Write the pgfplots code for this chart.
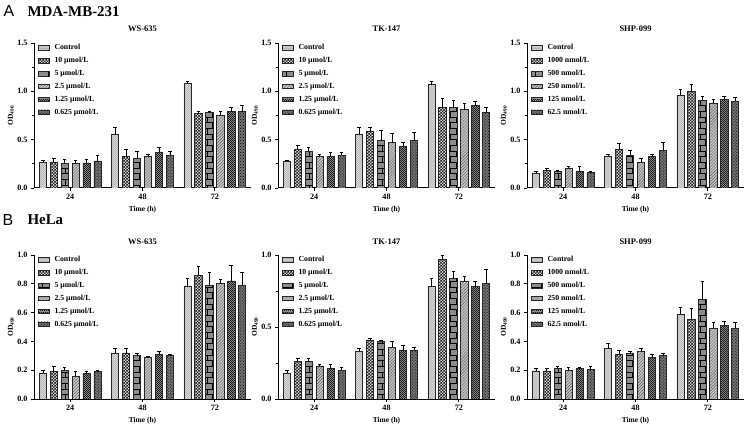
\documentclass[border=0pt]{standalone}
\usepackage{fontspec}
\setmainfont{Liberation Serif}
\newfontfamily\sansA{Liberation Sans}
\usepackage{pgfplots}
\usepackage{pgfplotstable}
\pgfplotsset{compat=1.18}
\usetikzlibrary{patterns}

\pgfdeclarepatternformonly{finecheck}{\pgfpointorigin}{\pgfqpoint{3pt}{3pt}}{\pgfqpoint{3pt}{3pt}}{%
  \pgfpathrectangle{\pgfpointorigin}{\pgfqpoint{1.5pt}{1.5pt}}%
  \pgfpathrectangle{\pgfqpoint{1.5pt}{1.5pt}}{\pgfqpoint{1.5pt}{1.5pt}}%
  \pgfusepath{fill}}
\pgfdeclarepatternformonly{tinycheck}{\pgfpointorigin}{\pgfqpoint{2.4pt}{2.4pt}}{\pgfqpoint{2.4pt}{2.4pt}}{%
  \pgfpathrectangle{\pgfpointorigin}{\pgfqpoint{1.2pt}{1.2pt}}%
  \pgfpathrectangle{\pgfqpoint{1.2pt}{1.2pt}}{\pgfqpoint{1.2pt}{1.2pt}}%
  \pgfusepath{fill}}

% columns: value and (upper) error for the six groups
\pgfplotstableread{
c ce a ae b be d de e ee f fe
0.27 0.02 0.27 0.04 0.25 0.05 0.25 0.04 0.26 0.04 0.28 0.06
0.56 0.07 0.33 0.07 0.31 0.07 0.33 0.02 0.37 0.05 0.34 0.04
1.08 0.02 0.77 0.02 0.78 0.01 0.75 0.04 0.79 0.04 0.79 0.07
}\tA
\pgfplotstableread{
c ce a ae b be d de e ee f fe
0.28 0.01 0.40 0.04 0.38 0.04 0.33 0.02 0.33 0.04 0.34 0.03
0.56 0.07 0.59 0.04 0.49 0.11 0.47 0.10 0.43 0.04 0.49 0.09
1.07 0.03 0.83 0.10 0.83 0.08 0.81 0.07 0.85 0.05 0.78 0.05
}\tB
\pgfplotstableread{
c ce a ae b be d de e ee f fe
0.15 0.02 0.18 0.02 0.17 0.01 0.20 0.02 0.17 0.05 0.16 0.01
0.33 0.02 0.40 0.06 0.34 0.05 0.27 0.04 0.33 0.02 0.39 0.08
0.96 0.06 1.00 0.07 0.91 0.04 0.88 0.04 0.92 0.03 0.90 0.04
}\tC
\pgfplotstableread{
c ce a ae b be d de e ee f fe
0.18 0.02 0.19 0.04 0.20 0.02 0.16 0.03 0.18 0.01 0.19 0.01
0.32 0.03 0.32 0.03 0.30 0.02 0.29 0.01 0.31 0.02 0.30 0.01
0.78 0.06 0.86 0.06 0.79 0.09 0.80 0.03 0.82 0.11 0.79 0.09
}\tD
\pgfplotstableread{
c ce a ae b be d de e ee f fe
0.18 0.02 0.26 0.02 0.26 0.02 0.23 0.01 0.21 0.03 0.20 0.02
0.33 0.02 0.41 0.01 0.40 0.01 0.36 0.04 0.34 0.03 0.34 0.02
0.78 0.06 0.97 0.03 0.84 0.05 0.82 0.03 0.78 0.04 0.80 0.10
}\tE
\pgfplotstableread{
c ce a ae b be d de e ee f fe
0.195 0.015 0.195 0.015 0.215 0.015 0.20 0.02 0.21 0.01 0.205 0.02
0.35 0.04 0.31 0.03 0.32 0.01 0.33 0.02 0.29 0.02 0.30 0.02
0.59 0.05 0.55 0.08 0.69 0.13 0.49 0.04 0.51 0.03 0.49 0.04
}\tF

\pgfplotsset{
  barsty/.style={ybar, bar width=0.1, bar shift=0pt, draw=black!85, line width=0.7pt,
    legend image code/.code={\draw[##1] (0bp,-2.3bp) rectangle (11bp,2.3bp);},
    error bars/y dir=plus, error bars/y explicit,
    error bars/error bar style={line width=0.6pt, black},
    error bars/error mark options={rotate=90, mark size=1.8bp, line width=0.6pt, black}},
  s0/.style={barsty, fill=black!30, postaction={pattern=tinycheck, pattern color=white!85!black}},
  s1/.style={barsty, fill=black!15, postaction={pattern=finecheck, pattern color=black!90}},
  s2/.style={barsty, fill=black!45, postaction={pattern=bricks, pattern color=black}},
  s3/.style={barsty, fill=black!22, postaction={pattern=north east lines, pattern color=black!65}},
  s4/.style={barsty, fill=black!40, postaction={pattern=tinycheck, pattern color=black!90}},
  s5/.style={barsty, fill=black!55, postaction={pattern=crosshatch dots, pattern color=black}},
  panel/.style={
    scale only axis, width=217bp, anchor=south west,
    xmin=-0.5, xmax=2.5, ymin=0,
    axis x line*=bottom, axis y line*=left,
    axis line style={line width=1pt, -},
    tick align=outside, major tick length=3bp, minor tick length=2bp,
    tick style={line width=0.8pt, black},
    xtick={0,1,2}, xticklabels={24,48,72},
    ticklabel style={font=\bfseries\fontsize{8.2}{9}\selectfont},
    /pgf/number format/assume math mode=true,
    yticklabel style={/pgf/number format/.cd, fixed, fixed zerofill, precision=1},
    xlabel={Time (h)}, ylabel={OD\textsubscript{490}},
    label style={font=\bfseries\fontsize{7.5}{9}\selectfont},
    ylabel style={at={(-0.106,0.5)}, anchor=center},
    legend style={at={(0.018,1)}, anchor=north west, draw=none, fill=none,
      font=\bfseries\fontsize{7.8}{8}\selectfont, row sep=3.6bp, inner sep=0pt,
      nodes={inner sep=1.2bp},
      /tikz/every odd column/.append style={column sep=3.5bp}},
    legend cell align=left,
  },
  toprow/.style={panel, height=145bp, ymax=1.5, ytick={0,0.5,1,1.5}, minor y tick num=1,
    xlabel style={at={(0.5,-0.152)}, anchor=center}},
  botrow/.style={panel, height=144bp, ymax=1.0,
    xlabel style={at={(0.5,-0.153)}, anchor=center}},
}
\tikzset{ttl/.style={font=\bfseries\fontsize{8.5}{10}\selectfont}}
\newcommand\sixbars[1]{%
  \addplot[s0] table[x expr=\coordindex-0.378, y=c, y error=ce]{#1};
  \addplot[s1] table[x expr=\coordindex-0.227, y=a, y error=ae]{#1};
  \addplot[s2] table[x expr=\coordindex-0.076, y=b, y error=be]{#1};
  \addplot[s3] table[x expr=\coordindex+0.076, y=d, y error=de]{#1};
  \addplot[s4] table[x expr=\coordindex+0.227, y=e, y error=ee]{#1};
  \addplot[s5] table[x expr=\coordindex+0.378, y=f, y error=fe]{#1};
}

\begin{document}
\begin{tikzpicture}
\path[use as bounding box] (0,0) rectangle (745bp,426bp);

\node[font=\sansA\fontsize{16}{18}\selectfont] at (9bp,415bp) {A};
\node[anchor=west, font=\bfseries\fontsize{15}{18}\selectfont] at (24bp,414bp) {MDA-MB-231};
\node[font=\sansA\fontsize{16}{18}\selectfont] at (8bp,206bp) {B};
\node[anchor=west, font=\bfseries\fontsize{15}{18}\selectfont] at (24bp,206bp) {HeLa};

\begin{axis}[toprow, at={(34bp,238bp)}, name=p1]
\sixbars{\tA}
\legend{Control, 10 µmol/L, 5 µmol/L, 2.5 µmol/L, 1.25 µmol/L, 0.625 µmol/L}
\end{axis}
\node[ttl] at ([yshift=14bp]p1.north) {WS-635};

\begin{axis}[toprow, at={(278bp,238bp)}, name=p2]
\sixbars{\tB}
\legend{Control, 10 µmol/L, 5 µmol/L, 2.5 µmol/L, 1.25 µmol/L, 0.625 µmol/L}
\end{axis}
\node[ttl] at ([yshift=14bp]p2.north) {TK-147};

\begin{axis}[toprow, at={(527bp,238bp)}, name=p3]
\sixbars{\tC}
\legend{Control, 1000 nmol/L, 500 nmol/L, 250 nmol/L, 125 nmol/L, 62.5 nmol/L}
\end{axis}
\node[ttl] at ([yshift=14bp]p3.north) {SHP-099};

\begin{axis}[botrow, at={(34bp,27bp)}, name=p4, ytick={0,0.2,...,1.0}]
\sixbars{\tD}
\legend{Control, 10 µmol/L, 5 µmol/L, 2.5 µmol/L, 1.25 µmol/L, 0.625 µmol/L}
\end{axis}
\node[ttl] at ([yshift=13bp]p4.north) {WS-635};

\begin{axis}[botrow, at={(278bp,27bp)}, name=p5, ytick={0,0.5,1.0}, minor y tick num=1]
\sixbars{\tE}
\legend{Control, 10 µmol/L, 5 µmol/L, 2.5 µmol/L, 1.25 µmol/L, 0.625 µmol/L}
\end{axis}
\node[ttl] at ([yshift=13bp]p5.north) {TK-147};

\begin{axis}[botrow, at={(527bp,27bp)}, name=p6, ytick={0,0.2,...,1.0}]
\sixbars{\tF}
\legend{Control, 1000 nmol/L, 500 nmol/L, 250 nmol/L, 125 nmol/L, 62.5 nmol/L}
\end{axis}
\node[ttl] at ([yshift=13bp]p6.north) {SHP-099};
\end{tikzpicture}
\end{document}
